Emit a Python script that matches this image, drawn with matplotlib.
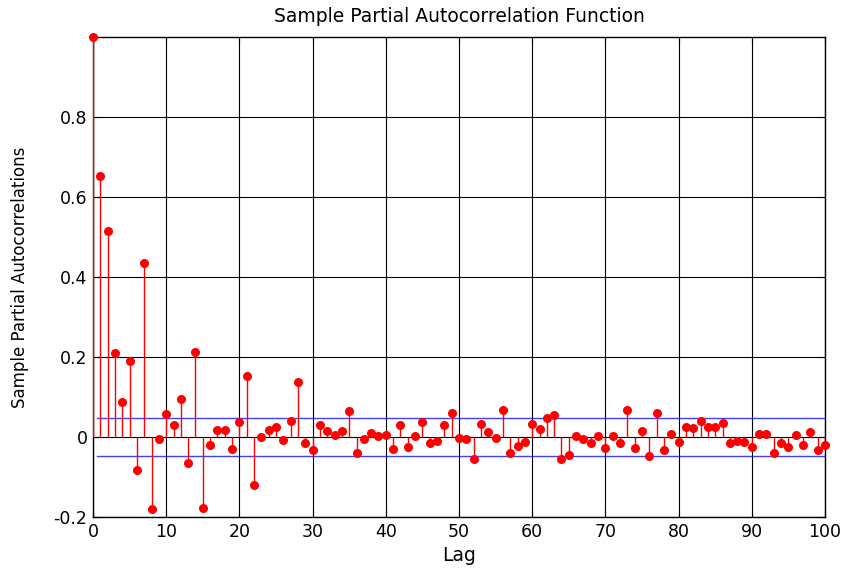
import matplotlib
matplotlib.use("Agg")
import matplotlib.pyplot as plt
import numpy as np

plt.rcParams["font.family"] = ["DejaVu Sans"]

# Partial autocorrelations, lags 0..100
lags = np.arange(0, 101)
pacf = [
    1.0, 0.652, 0.515, 0.209, 0.088, 0.19, -0.083, 0.435, -0.18, -0.005,
    0.057, 0.03, 0.095, -0.065, 0.212, -0.177, -0.021, 0.017, 0.017, -0.03,
    0.037, 0.152, -0.12, 0.0, 0.017, 0.026, -0.008, 0.04, 0.137, -0.015,
    -0.033, 0.03, 0.015, 0.005, 0.015, 0.064, -0.04, -0.005, 0.01, 0.003,
    0.005, -0.03, 0.03, -0.025, 0.003, 0.037, -0.015, -0.01, 0.03, 0.061,
    -0.002, -0.005, -0.055, 0.033, 0.012, -0.002, 0.067, -0.04, -0.023, -0.012,
    0.033, 0.02, 0.047, 0.055, -0.055, -0.044, 0.002, -0.005, -0.015, 0.002,
    -0.028, 0.002, -0.015, 0.067, -0.028, 0.015, -0.047, 0.061, -0.032, 0.007,
    -0.012, 0.026, 0.022, 0.04, 0.026, 0.026, 0.036, -0.016, -0.01, -0.012,
    -0.024, 0.008, 0.008, -0.04, -0.016, -0.024, 0.005, -0.02, 0.012, -0.032,
    -0.02,
]
bound = 0.047
bound_x = [0.5, 100]

xticks = np.arange(0, 101, 10)
yticks = [-0.2, 0, 0.2, 0.4, 0.6, 0.8]
ytick_labels = ["-0.2", "0", "0.2", "0.4", "0.6", "0.8"]

fig = plt.figure(figsize=(8.42, 5.69), dpi=100)
ax = fig.add_axes([93 / 842, 52 / 569, 732 / 842, 480 / 569])

# stems + markers
ax.vlines(lags, 0, pacf, color="red", linewidth=1.0, zorder=3)
ax.plot(lags, pacf, "o", color="red", markersize=6.5, markeredgewidth=0,
        zorder=4, clip_on=False)

# approximate confidence bounds
ax.plot(bound_x, [bound, bound], color="blue", linewidth=1.0, alpha=0.75, zorder=2)
ax.plot(bound_x, [-bound, -bound], color="blue", linewidth=1.0, alpha=0.75, zorder=2)

ax.set_xlim(0, 100)
ax.set_ylim(-0.2, 1.0)
ax.set_xticks(xticks)
ax.set_yticks(yticks)
ax.set_yticklabels(ytick_labels)
ax.tick_params(direction="in", labelsize=12.5, length=5, width=0.8,
               top=True, right=True, pad=4)
ax.grid(True, color="black", linestyle="-", linewidth=0.8, zorder=1)
ax.set_axisbelow(True)
for sp in ax.spines.values():
    sp.set_linewidth(1.0)

ax.set_title("Sample Partial Autocorrelation Function", fontsize=13.5, pad=11)
ax.set_xlabel("Lag", fontsize=13.5, labelpad=4)
ax.set_ylabel("Sample Partial Autocorrelations", fontsize=12, labelpad=18)

fig.savefig("out.png", dpi=100)
